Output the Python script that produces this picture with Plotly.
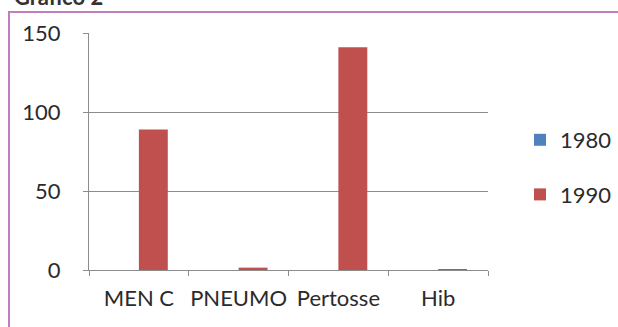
import plotly.graph_objects as go

# Chart data
categories = ["MEN C", "PNEUMO", "Pertosse", "Hib"]
years = ["1980", "1990"]
values_1980 = [0, 0, 0, 0]
values_1990 = [89, 1.5, 141, 0.5]
y_ticks = [0, 50, 100, 150]

colors = {"1980": "#4F81BD", "1990": "#C0504D"}
series = {"1980": values_1980, "1990": values_1990}

W, H = 618, 327
ML, MR, MT, MB = 89, 130, 33, 57
plot_w = W - ML - MR
plot_h = H - MT - MB

def px_x(px):
    return (px - ML) / plot_w

def px_y(py):
    return (H - MB - py) / plot_h

fig = go.Figure()
for yr in years:
    fig.add_trace(go.Bar(
        x=categories, y=series[yr], name=yr,
        marker=dict(color=colors[yr], line=dict(width=0)),
        legendgroup=yr,
    ))

text_font = dict(family="Lato, 'Open Sans', sans-serif", size=22, color="#2b2b2b")

fig.update_layout(
    width=W, height=H,
    margin=dict(l=ML, r=MR, t=MT, b=MB, autoexpand=False),
    paper_bgcolor="white", plot_bgcolor="white",
    barmode="group", bargap=0.42, bargroupgap=0,
    font=text_font,
    showlegend=True,
    legend=dict(
        x=px_x(520), y=px_y(119), xanchor="left", yanchor="top",
        font=text_font, tracegroupgap=23, bgcolor="rgba(0,0,0,0)",
        itemwidth=30,
    ),
    xaxis=dict(
        type="category", showgrid=False, showline=True, linecolor="#8c8c8c",
        linewidth=1, ticks="outside", tickson="boundaries", ticklen=5,
        tickcolor="#8c8c8c", ticklabelstandoff=9, tickfont=text_font,
        tickangle=0, automargin=False,
    ),
    yaxis=dict(
        range=[0, 150], tickvals=y_ticks, showgrid=True, gridcolor="#8c8c8c",
        gridwidth=1, showline=True, linecolor="#8c8c8c", linewidth=1,
        ticks="outside", ticklen=5, tickcolor="#8c8c8c",
        ticklabelstandoff=18, tickfont=text_font, zeroline=False,
        automargin=False,
    ),
    shapes=[dict(
        type="rect", xref="paper", yref="paper",
        x0=px_x(9), x1=px_x(640), y0=px_y(12), y1=px_y(345),
        line=dict(color="#BF7FBF", width=2), fillcolor="rgba(0,0,0,0)",
        layer="below",
    )],
    annotations=[dict(
        text="<b>Gráfico 2</b>", xref="paper", yref="paper",
        x=px_x(12), y=px_y(12), xanchor="left", yanchor="bottom",
        showarrow=False, font=dict(family="Lato, sans-serif", size=22, color="#333"),
    )],
)

fig.write_html("out.html")
